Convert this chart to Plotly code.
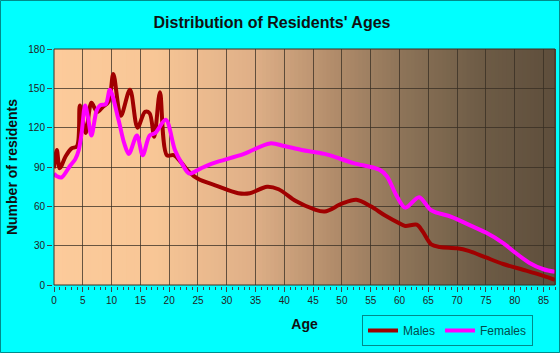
import plotly.graph_objects as go

# ---- data ----
male_ages = [0, 0.5, 1, 2, 3, 4, 4.5, 5.5, 6.5, 7.5, 8.5, 9.5, 10.3, 11.6, 13.2, 14.5, 15.8,
             16.6, 17.4, 18.4, 19.6, 20.8, 22, 23.5, 25, 28, 32, 34, 37, 39, 42, 45, 47,
             50, 52.5, 55, 57.5, 60, 61, 63, 64, 65.5, 67, 70, 72, 75, 78, 82, 85, 87]
male_vals = [89, 103, 89, 98, 104, 106, 137, 116, 139, 132, 136, 140, 161, 129, 149, 120, 132,
             131, 113, 147, 99, 99, 94, 86, 81, 76, 70, 70, 75, 73, 64, 58, 56,
             62, 65, 60, 53, 47, 45, 46, 41, 31, 29, 28, 26, 21, 16, 11, 7, 4]

female_ages = [0, 0.5, 1.3, 2.8, 3.7, 4.3, 4.8, 5.4, 5.9, 6.5, 7.4, 8, 9, 9.7, 11.2, 12.2, 13,
               14.4, 15.4, 16.6, 17.6, 19.4, 21, 22.3, 23.5, 25.5, 27.7, 33, 37.5, 40, 43,
               47, 52, 56.5, 57.8, 59.5, 61, 63.4, 65.5, 69, 72, 75, 78, 80, 82.5, 85, 87]
female_vals = [85, 83, 82, 91, 96, 103, 116, 137, 128, 114, 133, 137, 138, 149, 126, 108, 100,
               114, 99, 114, 116, 126, 103, 92, 85, 89, 93, 100, 108, 106, 103,
               100, 93, 88, 83, 68, 59, 67, 57, 52, 46, 40, 32, 25, 17, 12, 10]

x_ticks = list(range(0, 86, 5))
y_ticks = [0, 30, 60, 90, 120, 150, 180]

TITLE = "Distribution of Residents' Ages"
FONT = "Liberation Sans, Arial, sans-serif"

fig = go.Figure()
fig.add_trace(go.Scatter(x=male_ages, y=male_vals, name="Males", mode="lines",
                         line=dict(color="#A00000", width=4, shape="spline", smoothing=0.9)))
fig.add_trace(go.Scatter(x=female_ages, y=female_vals, name="Females", mode="lines",
                         line=dict(color="#FF00FF", width=4, shape="spline", smoothing=0.9)))

# gradient background as vertical strips
stops = [(0.0, (252, 203, 155)), (0.2, (248, 198, 150)), (0.4, (222, 175, 135)),
         (0.55, (180, 142, 108)), (0.7, (140, 115, 88)), (0.85, (110, 92, 70)),
         (1.0, (94, 78, 60))]

def col(t):
    for (t0, c0), (t1, c1) in zip(stops[:-1], stops[1:]):
        if t <= t1:
            f = (t - t0) / (t1 - t0)
            return "rgb(%d,%d,%d)" % tuple(round(a + (b - a) * f) for a, b in zip(c0, c1))
    return "rgb(%d,%d,%d)" % stops[-1][1]

N = 125
shapes = []
for i in range(N):
    t0 = i / N
    t1 = (i + 1) / N
    shapes.append(dict(type="rect", xref="x domain", yref="y domain", x0=t0, x1=t1 + 0.002,
                       y0=0, y1=1, fillcolor=col((t0 + t1) / 2), line=dict(width=0),
                       layer="below"))
# plot border
shapes.append(dict(type="rect", xref="x domain", yref="y domain", x0=0, x1=1, y0=0, y1=1,
                   line=dict(color="#3c3024", width=1), fillcolor="rgba(0,0,0,0)",
                   layer="above"))
# outer frame
shapes.append(dict(type="rect", xref="paper", yref="paper",
                   x0=-53.5 / 501, x1=1 + 4.5 / 501, y0=-67.5 / 236, y1=1 + 48.5 / 236,
                   line=dict(color="#008B8B", width=1), fillcolor="rgba(0,0,0,0)",
                   layer="above"))

fig.update_layout(
    width=560, height=353,
    paper_bgcolor="#00FFFF", plot_bgcolor="#FCCB9B",
    margin=dict(l=54, r=5, t=49, b=68),
    font=dict(family=FONT, color="#222222"),
    title=dict(text=TITLE, x=272 / 560, xanchor="center", xref="container",
               y=1 - 22 / 353, yanchor="middle", yref="container",
               font=dict(family=FONT, size=16, color="#111111", weight="bold")),
    shapes=shapes,
    showlegend=True,
    legend=dict(orientation="h", x=(362 - 54) / 501, y=(285 - 315) / 236,
                xanchor="left", yanchor="top", bgcolor="#00FFFF",
                bordercolor="#008B8B", borderwidth=1,
                font=dict(family=FONT, size=12, color="#004C4C"),
                itemwidth=30, tracegroupgap=0),
)

fig.update_xaxes(range=[0, 87], tickvals=x_ticks, ticks="outside", ticklen=5,
                 tickcolor="#444444", tickfont=dict(size=10, color="#222222"),
                 showgrid=True, gridcolor="rgba(55,45,35,0.75)", gridwidth=1,
                 zeroline=False, showline=True, linecolor="#00FFFF", linewidth=2,
                 minor=dict(dtick=1, ticks="outside", ticklen=3, tickcolor="#444444",
                            showgrid=False),
                 title=dict(text="Age", standoff=14,
                            font=dict(family=FONT, size=14, color="#111111", weight="bold")),
                 fixedrange=True)
fig.update_yaxes(range=[0, 180], tickvals=y_ticks, ticks="outside", ticklen=5,
                 tickcolor="#444444", tickfont=dict(size=10, color="#222222"),
                 showgrid=True, gridcolor="rgba(55,45,35,0.75)", gridwidth=1,
                 zeroline=False, showline=True, linecolor="#00FFFF", linewidth=2,
                 title=dict(text="Number of residents", standoff=7,
                            font=dict(family=FONT, size=14, color="#111111", weight="bold")),
                 fixedrange=True)

fig.write_html("out.html")
